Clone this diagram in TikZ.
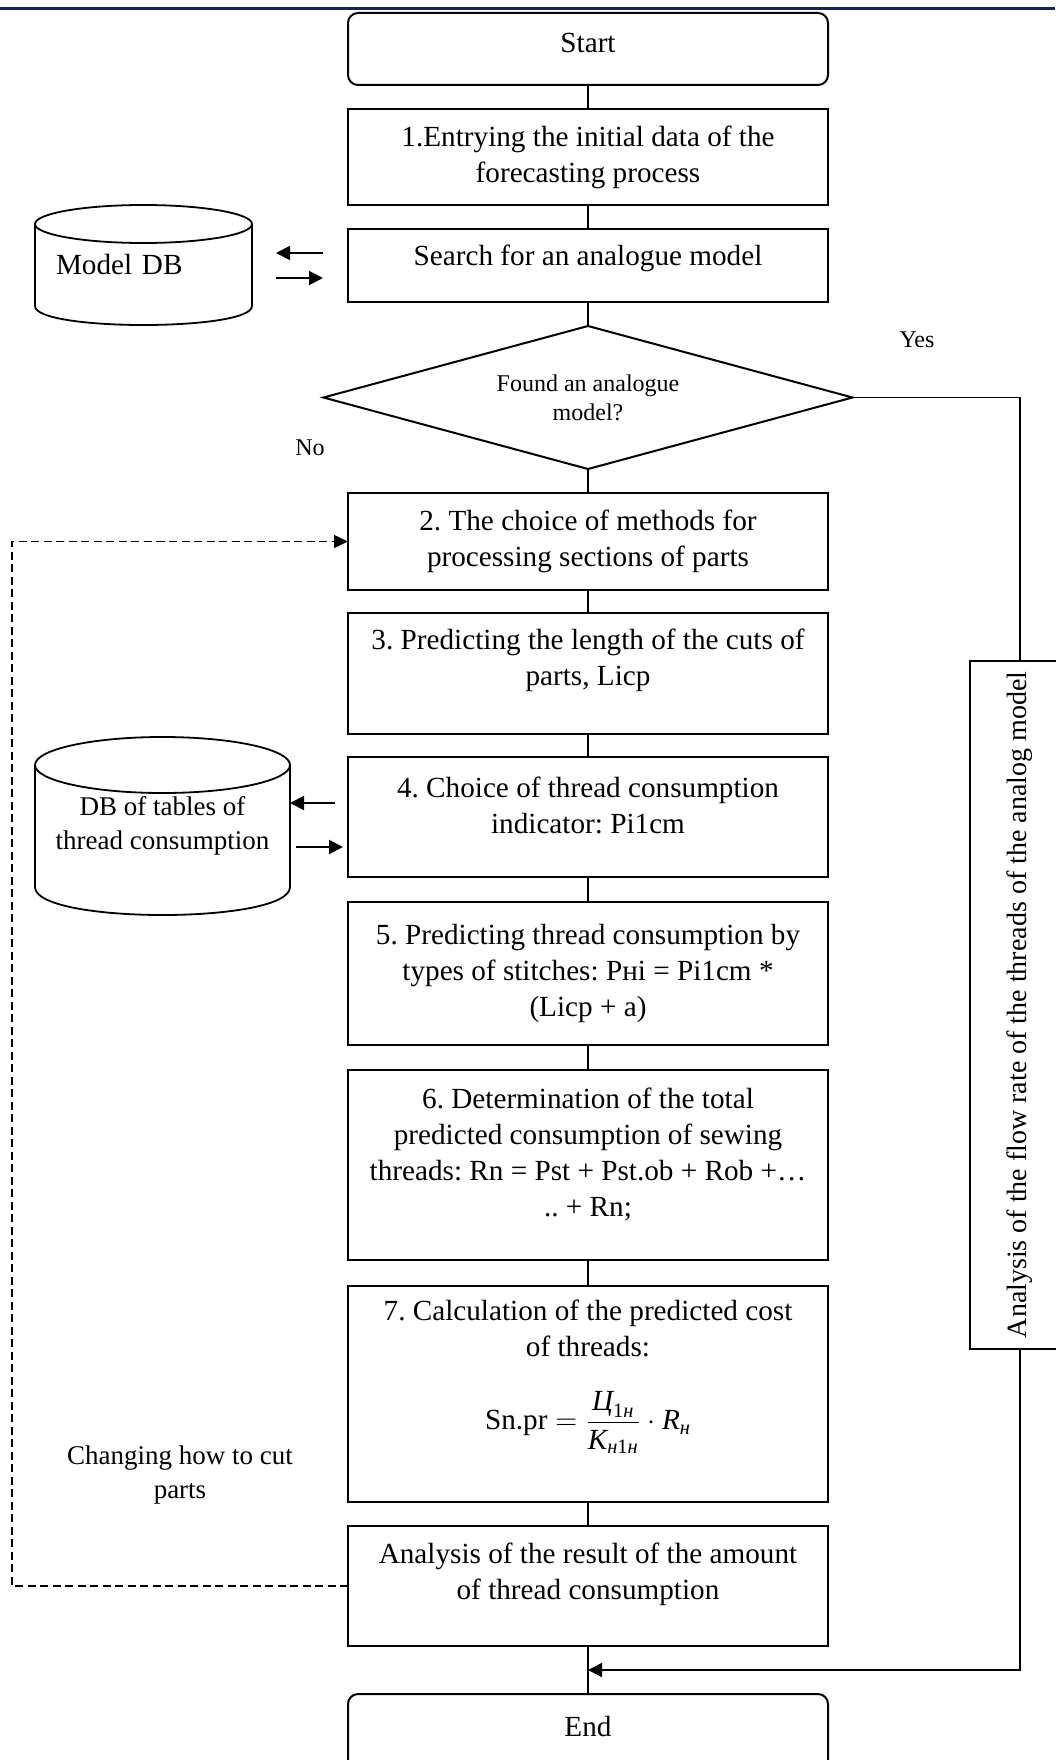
\documentclass[tikz,border=0pt]{standalone}
\usepackage{amsmath}
\usepackage{fontspec}
\setmainfont{Liberation Serif}
\usetikzlibrary{arrows.meta,calc,shapes.geometric}
\definecolor{navy}{RGB}{16,37,99}
\tikzset{
  proc/.style={draw, line width=1pt, minimum width=240pt, align=center, inner sep=2pt, outer sep=0pt, font=\fontsize{14.6}{18}\selectfont},
  term/.style={proc, rounded corners=5pt},
  decide/.style={diamond, draw, line width=1pt, aspect=3.7, inner sep=0pt, outer sep=0pt, minimum width=264.5pt, minimum height=71.5pt, align=center, font=\fontsize{12}{14.5}\selectfont},
  dbtxt/.style={inner sep=0pt, outer sep=0pt, align=center, font=\fontsize{13.5}{17}\selectfont},
  dbline/.style={line width=0.9pt},
  conn/.style={line width=0.6pt},
  dbarr/.style={-{Triangle[length=7pt,width=7pt]}, line width=1pt},
  yesln/.style={line width=0.8pt},
  merge/.style={-{Triangle[length=7pt,width=7pt]}, line width=1pt},
  retry/.style={-{Triangle[length=7pt,width=6.5pt]}, line width=0.7pt, dash pattern=on 4pt off 2.25pt},
  side/.style={draw, line width=1pt, rotate=90, minimum width=344pt, minimum height=50pt, inner sep=2pt, font=\fontsize{14}{17}\selectfont},
  lab/.style={inner sep=0pt, font=\fontsize{12}{14}\selectfont},
  note/.style={inner sep=0pt, align=center, font=\fontsize{13.5}{17}\selectfont},
}
\frenchspacing
\begin{document}
\begin{tikzpicture}[x=0.5pt, y=-0.5pt]
  \useasboundingbox (0,0) rectangle (1055,1760);
  \fill[navy] (0,7) rectangle (1055,10);
  % main column (an empty last line lifts the text a little, as in the scan)
  \node[term, minimum height=36pt] (start) at (588,49) {Start\\[-12pt]\mbox{}};
  \node[proc, minimum height=48pt] (b1) at (588,157) {1.Entrying the initial data of the\\forecasting process};
  \node[proc, minimum height=36.5pt] (srch) at (588,265.5) {Search for an analogue model\\[-7.8pt]\mbox{}};
  \node[decide] (dia) at (588,397.5) {Found an analogue\\model?};
  \node[lab] (yes) at (917,340) {Yes};
  \node[lab] (no) at (310,448) {No};
  \node[proc, minimum height=48.5pt] (b2) at (588,541.5) {2. The choice of methods for\\processing sections of parts};
  \node[proc, minimum height=60.5pt] (b3) at (588,673.5) {3. Predicting the length of the cuts of\\parts, Licp\\[-1.8pt]\mbox{}};
  \node[proc, minimum height=60pt] (b4) at (588,817) {4. Choice of thread consumption\\indicator: Pi1cm\\[-6.5pt]\mbox{}};
  \node[proc, minimum height=71.5pt] (b5) at (588,973.5) {5. Predicting thread consumption by\\types of stitches: Pнi = Pi1cm *\\(Licp + a)};
  \node[proc, minimum height=95pt] (b6) at (588,1165) {6. Determination of the total\\predicted consumption of sewing\\threads: Rn = Pst + Pst.ob + Rob +…\\.. + Rn;\\[-5pt]\mbox{}};
  \node[proc, minimum height=108pt] (b7) at (588,1394) {7. Calculation of the predicted cost\\of threads:\\[16pt]
    $\text{Sn.pr} = \dfrac{\text{\itshape Ц}_{\text{1\itshape н}}}{\text{\itshape K}_{\text{\itshape н\upshape 1\itshape н}}}\cdot\text{\itshape R}_{\text{\itshape н}}$\\[11pt]\mbox{}};
  \node[proc, minimum height=60pt] (b8) at (588,1586) {Analysis of the result of the amount\\of thread consumption\\[-3.3pt]\mbox{}};
  \node[term, minimum height=40pt] (end) at (588,1734) {End\\[-10pt]\mbox{}};
  % databases
  \node[dbtxt, minimum width=108.5pt, minimum height=60pt, text width=87.5pt, align=left, font=\fontsize{14.6}{18}\selectfont] (mdb) at (143.5,265) {Model DB};
  \draw[dbline] ([yshift=-9.5pt]mdb.north) ellipse[x radius=54.25pt, y radius=9.5pt];
  \draw[dbline] ([yshift=-9.5pt]mdb.north west) -- ([yshift=9.5pt]mdb.south west)
    .. controls +(0pt,-12.67pt) and +(0pt,-12.67pt) .. ([yshift=9.5pt]mdb.south east)
    -- ([yshift=-9.5pt]mdb.north east);
  \node[dbtxt, minimum width=127.5pt, minimum height=89pt] (tdb) at (162.5,826) {DB of tables of\\thread consumption};
  \draw[dbline] ([yshift=-14pt]tdb.north) ellipse[x radius=63.75pt, y radius=14pt];
  \draw[dbline] ([yshift=-14pt]tdb.north west) -- ([yshift=14pt]tdb.south west)
    .. controls +(0pt,-18.67pt) and +(0pt,-18.67pt) .. ([yshift=14pt]tdb.south east)
    -- ([yshift=-14pt]tdb.north east);
  % side branch
  \node[side] (flow) at (1020,1005) {Analysis of the flow rate of the threads of the analog model};
  \node[note] (chg) at (180,1475) {Changing how to cut\\parts};
  \coordinate (jn) at (588,1670);
  \coordinate (lft) at (12,542);
  % connectors
  \draw[conn] (start) -- (b1);
  \draw[conn] (b1) -- (srch);
  \draw[conn] (srch) -- (dia);
  \draw[conn] (dia) -- (b2);
  \draw[conn] (b2) -- (b3);
  \draw[conn] (b3) -- (b4);
  \draw[conn] (b4) -- (b5);
  \draw[conn] (b5) -- (b6);
  \draw[conn] (b6) -- (b7);
  \draw[conn] (b7) -- (b8);
  \draw[conn] (b8) -- (end);
  \draw[dbarr] ($(srch.west)+(-12.5pt,6.25pt)$) -- ($(srch.west -| mdb.east)+(12pt,6.25pt)$);
  \draw[dbarr] ($(srch.west -| mdb.east)+(12pt,-6.25pt)$) -- ($(srch.west)+(-12.5pt,-6.25pt)$);
  \draw[dbarr] ($(b4.west)+(-6.5pt,7pt)$) -- ($(b4.west -| tdb.east)+(0pt,7pt)$);
  \draw[dbarr] ($(b4.west -| tdb.east)+(3pt,-15pt)$) -- ($(b4.west)+(-2.5pt,-15pt)$);
  \draw[yesln] (dia.east) -| (flow.east);
  \draw[merge] (flow.west) |- (jn);
  \draw[retry] (b8.west) -| (lft) |- (b2.west);
\end{tikzpicture}
\end{document}
